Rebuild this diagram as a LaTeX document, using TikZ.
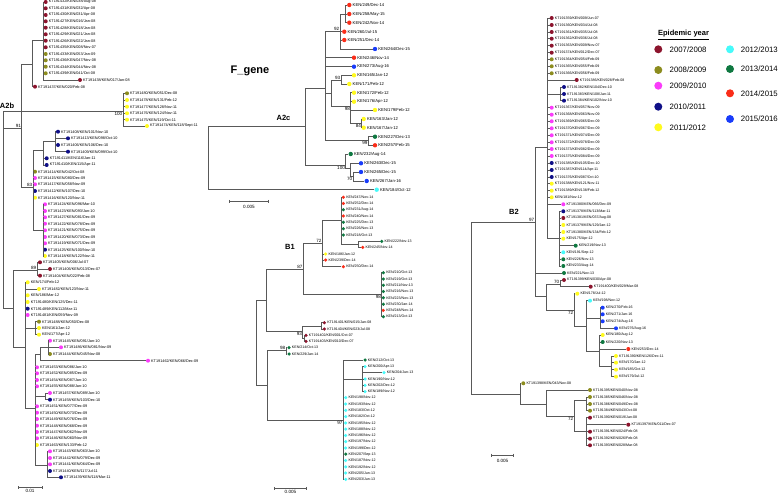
\documentclass[tikz,border=0pt]{standalone}
\usepackage{fontspec}
\setmainfont{Liberation Sans}
\usetikzlibrary{positioning}

\definecolor{y0708}{RGB}{140,20,45}
\definecolor{y0809}{RGB}{140,140,30}
\definecolor{y0910}{RGB}{250,60,250}
\definecolor{y1011}{RGB}{15,15,135}
\definecolor{y1112}{RGB}{255,250,30}
\definecolor{y1213}{RGB}{70,250,250}
\definecolor{y1314}{RGB}{15,120,65}
\definecolor{y1415}{RGB}{250,45,25}
\definecolor{y1516}{RGB}{25,60,250}

\tikzset{
  br/.style={draw=black!65, line width=0.5pt},
  dot/.style={circle, draw=none, inner sep=0pt, minimum size=4pt},
  lbl/.style={anchor=west, inner sep=0.8pt, font=\fontsize{3.8}{4}\selectfont},
  bs/.style={inner sep=0.6pt, font=\fontsize{4.6}{5}\selectfont},
  clade/.style={font=\bfseries\fontsize{7.5}{8}\selectfont},
  key/.style={circle, draw=none, inner sep=0pt, minimum size=8pt},
  keytxt/.style={inner sep=0pt, font=\fontsize{7.8}{9}\selectfont},
}

% parent, name, x, y, colour, text
\newcommand{\seqtip}[6]{%
  \node[dot, fill=#5] (#2) at (#3,#4) {};
  \node[lbl] (#2l) at (#2.east) {#6};
  \draw[br] (#1) |- (#2);}
% parent, name, x, y
\newcommand{\innode}[4]{%
  \coordinate (#2) at (#3,#4);
  \draw[br] (#1) |- (#2);}

\begin{document}
\begin{tikzpicture}[x=1pt, y=-1pt]
  \useasboundingbox (0,0) rectangle (778,494);

  % ---------- A2b ----------
  \coordinate (r2b) at (3,128);
  \innode{r2b}{g2}{123}{111}
  \innode{r2b}{n91}{21.7}{128}
  \innode{r2b}{nL}{13}{308}
  \innode{n91}{g1p}{32}{64}
  \innode{g1p}{g1}{43.3}{40}
  \seqtip{g1}{a1}{45.7}{2}{y0708}{KT191432/KEN/038/Aug-08}
  \seqtip{g1}{a2}{45.7}{8.3}{y0708}{KT191431/KEN/032/Apr-08}
  \seqtip{g1}{a3}{45.7}{15}{y0708}{KT191430/KEN/031/Apr-08}
  \seqtip{g1}{a4}{45.7}{21.3}{y0708}{KT191427/KEN/016/Jan-08}
  \seqtip{g1}{a5}{45.7}{27.7}{y0708}{KT191428/KEN/018/Jan-08}
  \seqtip{g1}{a6}{45.7}{34.3}{y0708}{KT191429/KEN/021/Jan-08}
  \seqtip{g1}{a7}{45.7}{40.7}{y0708}{KT191426/KEN/022/Jan-08}
  \seqtip{g1}{a8}{45.7}{47.3}{y0708}{KT191435/KEN/008/Nov-07}
  \seqtip{g1}{a9}{45.7}{54}{y0809}{KT191433/KEN/053/Jan-09}
  \seqtip{g1}{a10}{45.7}{60.3}{y0809}{KT191436/KEN/047/Nov-08}
  \seqtip{g1}{a11}{45.7}{66.7}{y0809}{KT191434/KEN/044/Nov-08}
  \seqtip{g1}{a12}{45.7}{73.3}{y0809}{KT191439/KEN/041/Oct-08}
  \seqtip{g1}{a13}{80}{80}{y0708}{KT191438/KEN/017/Jan-08}
  \seqtip{g1p}{a14}{35}{86.7}{y0708}{KT191437/KEN/020/Feb-08}

  \seqtip{g2}{a15}{127}{93.3}{y0809}{KT191480/KEN/051/Dec-08}
  \seqtip{g2}{a16}{127}{100}{y1112}{KT191478/KEN/131/Feb-12}
  \seqtip{g2}{a17}{127}{106.7}{y1112}{KT191477/KEN/128/Nov-11}
  \seqtip{g2}{a18}{127}{113.3}{y1112}{KT191476/KEN/124/Nov-11}
  \seqtip{g2}{a19}{127}{119.7}{y1112}{KT191475/KEN/119/Oct-11}
  \seqtip{g2}{a20}{147}{126}{y1112}{KT191474/KEN/118/Sept-11}

  \innode{n91}{n83}{33}{187}
  \innode{n83}{nS}{43}{150}
  \innode{nS}{nA}{55}{141}
  \seqtip{nA}{a21}{58}{131.7}{y1011}{KT191408/KEN/101/Nov-10}
  \seqtip{nA}{a22}{68}{138.3}{y1011}{KT191413/KEN/098/Oct-10}
  \seqtip{nA}{a23}{58}{145}{y1011}{KT191406/KEN/106/Dec-10}
  \seqtip{nA}{a24}{68}{151.7}{y1011}{KT191409/KEN/099/Oct-10}
  \seqtip{nS}{a25}{46.7}{158.3}{y1011}{KT191411/KEN/116/Jan-11}
  \seqtip{nS}{a26}{46.7}{165}{y1011}{KT191410/KEN/115/Apr-11}
  \seqtip{n83}{a27}{35}{171.7}{y0809}{KT191414/KEN/042/Oct-08}
  \seqtip{n83}{a28}{35}{178}{y0910}{KT191415/KEN/080/Dec-09}
  \seqtip{n83}{a29}{35}{184.3}{y0910}{KT191417/KEN/058/Nov-09}
  \seqtip{n83}{a30}{35}{191}{y1011}{KT191412/KEN/107/Dec-10}
  \seqtip{n83}{a31}{35}{197.7}{y1112}{KT191416/KEN/120/Nov-11}
  \innode{n83}{nT}{43}{230}
  \seqtip{nT}{a32}{45}{204.3}{y0910}{KT191424/KEN/096/Mar-10}
  \seqtip{nT}{a33}{45}{211}{y0910}{KT191423/KEN/093/Jan-10}
  \seqtip{nT}{a34}{45}{217.3}{y0910}{KT191427/KEN/081/Dec-09}
  \seqtip{nT}{a35}{45}{223.7}{y0910}{KT191422/KEN/078/Dec-09}
  \seqtip{nT}{a36}{45}{230.3}{y0910}{KT191421/KEN/075/Dec-09}
  \seqtip{nT}{a37}{45}{237}{y0910}{KT191420/KEN/073/Dec-09}
  \seqtip{nT}{a38}{45}{243.3}{y0910}{KT191419/KEN/071/Dec-09}
  \seqtip{nT}{a39}{45}{249.7}{y1011}{KT191425/KEN/100/Nov-10}
  \seqtip{nT}{a40}{45}{256}{y1112}{KT191418/KEN/122/Nov-11}

  \innode{nL}{n89}{37}{270}
  \seqtip{n89}{a41}{40}{262.3}{y0708}{KT191405/KEN/006/Jul-07}
  \seqtip{n89}{a42}{50}{269}{y0708}{KT191406/KEN/013/Dec-07}
  \seqtip{n89}{a43}{40}{275.7}{y0708}{KT191404/KEN/022/Feb-08}
  \innode{nL}{nM}{25}{347}
  \seqtip{nM}{a44}{27.7}{282.3}{y1112}{KEN/174/Feb-12}
  \seqtip{nM}{a45}{39}{289}{y1112}{KT191482/KEN/123/Nov-11}
  \seqtip{nM}{a46}{27.7}{295.3}{y1112}{KEN/186/Mar-12}
  \seqtip{nM}{a47}{27.7}{302}{y1112}{KT191480/KEN/125/Dec-11}
  \seqtip{nM}{a48}{27.7}{308.7}{y1011}{KT191489/KEN/112/Mar-11}
  \seqtip{nM}{a49}{27.7}{315}{y0910}{KT191481/KEN/059/Nov-09}
  \innode{nM}{nY2}{35}{328}
  \seqtip{nY2}{a50}{39}{321.7}{y0809}{KT191488/KEN/050/Dec-08}
  \seqtip{nY2}{a51}{39}{328}{y1112}{KEN/161/Jan-12}
  \seqtip{nY2}{a52}{39}{334.7}{y1112}{KEN/177/Apr-12}
  \innode{nM}{nN}{35}{408}
  \innode{nN}{nP}{40.7}{354}
  \innode{nP}{nQ}{48}{347}
  \seqtip{nQ}{a53}{50}{340.7}{y0910}{KT191445/KEN/091/Jan-10}
  \seqtip{nQ}{a54}{61}{347.3}{y0910}{KT191486/KEN/081/Nov-09}
  \seqtip{nQ}{a55}{50}{354}{y0809}{KT191444/KEN/045/Nov-08}
  \seqtip{nP}{a56}{148}{360.7}{y0910}{KT191462/KEN/066/Dec-09}
  \seqtip{nN}{a57}{37}{367.3}{y0910}{KT191453/KEN/086/Jan-10}
  \seqtip{nN}{a58}{37}{373.3}{y0910}{KT191452/KEN/085/Dec-09}
  \seqtip{nN}{a59}{37}{380}{y0910}{KT191454/KEN/087/Jan-10}
  \seqtip{nN}{a60}{37}{386.3}{y0910}{KT191455/KEN/088/Jan-10}
  \innode{nN}{nU}{45}{396}
  \seqtip{nU}{a61}{50}{393}{y0910}{KT191457/KEN/089/Jan-10}
  \seqtip{nU}{a62}{50}{399.7}{y1011}{KT191458/KEN/103/Dec-10}
  \seqtip{nN}{a63}{37}{406.3}{y0910}{KT191451/KEN/077/Dec-09}
  \seqtip{nN}{a64}{37}{412.7}{y0910}{KT191450/KEN/073/Dec-09}
  \seqtip{nN}{a65}{37}{419}{y0910}{KT191449/KEN/076/Dec-09}
  \seqtip{nN}{a66}{37}{425.7}{y0910}{KT191448/KEN/068/Dec-09}
  \seqtip{nN}{a67}{37}{432}{y0910}{KT191447/KEN/062/Nov-09}
  \seqtip{nN}{a68}{37}{438.3}{y0910}{KT191446/KEN/060/Nov-09}
  \seqtip{nN}{a69}{37}{445}{y1112}{KT191463/KEN/133/Feb-12}
  \innode{nN}{nR}{47}{465}
  \seqtip{nR}{a70}{50}{451.3}{y0910}{KT191443/KEN/063/Jan-10}
  \seqtip{nR}{a71}{50}{458}{y0910}{KT191442/KEN/079/Dec-09}
  \seqtip{nR}{a72}{50}{464.3}{y0910}{KT191441/KEN/064/Dec-09}
  \seqtip{nR}{a73}{50}{471}{y1011}{KT191440/KEN/117/Jul-11}
  \seqtip{nR}{a74}{61}{477.3}{y1011}{KT191439/KEN/118/Mar-11}

  \node[bs, anchor=north east] (bs100a) at (g2) {100};
  \node[bs, anchor=south east] (bs91) at (n91) {91};
  \node[bs, anchor=south east] (bs83) at (n83) {83};
  \node[bs, anchor=south east] (bs89) at (n89) {89};
  \node[clade] (labA2b) at (7,106) {A2b};

  \coordinate (sbA0) at (18,487.7);
  \coordinate (sbA1) at (42,487.7);
  \draw[br] (sbA0) -- (sbA1);
  \draw[br] ([yshift=1.5pt]sbA0) -- ([yshift=-1.5pt]sbA0);
  \draw[br] ([yshift=1.5pt]sbA1) -- ([yshift=-1.5pt]sbA1);
  \node[bs] (sbAl) at (30,491.3) {0.01};

  % ---------- A2c ----------
  \begin{scope}[lbl/.append style={font=\fontsize{4.2}{5}\selectfont},
                dot/.append style={minimum size=4.4pt}]
  \coordinate (rC) at (208,150);
  \innode{rC}{nC0}{305}{126}
  \innode{nC0}{nB}{325.7}{88.3}
  \innode{nB}{n92}{340}{31.7}
  \innode{n92}{n92a}{345.7}{14}
  \seqtip{n92a}{c1}{349.3}{5}{y1415}{KEN/249/Dec-14}
  \seqtip{n92a}{c2}{349.3}{14}{y1415}{KEN/258/May-15}
  \seqtip{n92a}{c3}{349.3}{22.7}{y1415}{KEN/242/Nov-14}
  \seqtip{n92}{c4}{344.3}{31.7}{y1415}{KEN/260/Jul-15}
  \seqtip{n92}{c5}{344.3}{40}{y1415}{KEN/251/Dec-14}
  \seqtip{n92}{c6}{375}{49}{y1516}{KEN/264/Dec-15}
  \seqtip{nB}{c7}{354}{57.7}{y1415}{KEN/246/Nov-14}
  \seqtip{nB}{c8}{354}{66.7}{y1516}{KEN/273/Aug-16}
  \innode{nB}{nYc}{331.7}{93}
  \innode{nYc}{n93}{341}{80}
  \seqtip{n93}{c9}{354}{75.3}{y1112}{KEN/165/Jan-12}
  \seqtip{n93}{c10}{349.3}{84}{y1112}{KEN/171/Feb-12}
  \innode{nYc}{n98}{350.7}{106.7}
  \seqtip{n98}{c11}{354}{92.7}{y1112}{KEN/172/Feb-12}
  \seqtip{n98}{c12}{354}{101.7}{y1112}{KEN/176/Apr-12}
  \seqtip{n98}{c13}{375}{110}{y1112}{KEN/179/Feb-12}
  \innode{n98}{n84}{361.7}{123.4}
  \seqtip{n84}{c14}{363.7}{119}{y1112}{KEN/163/Jan-12}
  \seqtip{n84}{c15}{363.7}{127.7}{y1112}{KEN/167/Jan-12}
  \innode{nB}{nG}{368.3}{140}
  \seqtip{nG}{c16}{375}{136.7}{y1314}{KEN/227/Dec-13}
  \seqtip{nG}{c17}{375}{145.3}{y1415}{KEN/257/Feb-15}
  \innode{nC0}{n100}{345.7}{165}
  \seqtip{n100}{c18}{350.7}{154}{y1314}{KEN/232/Aug-14}
  \innode{n100}{nH}{350}{168}
  \seqtip{nH}{c19}{361}{163.3}{y1516}{KEN/263/Dec-15}
  \innode{nH}{n70}{353}{176.5}
  \seqtip{n70}{c20}{361}{172}{y1516}{KEN/265/Dec-15}
  \seqtip{n70}{c21}{366.7}{181}{y1516}{KEN/267/Jan-16}
  \seqtip{rC}{c22}{376.7}{189.7}{y1213}{KEN/184/Oct-12}
  \end{scope}

  \node[bs, anchor=south east] (bs92) at (n92) {92};
  \node[bs, anchor=south east] (bs93) at (n93) {93};
  \node[bs, anchor=north east] (bs98a) at (n98) {98};
  \node[bs, anchor=north east] (bs84) at (n84) {84};
  \node[bs, anchor=north east] (bs99) at (nG) {99};
  \node[bs, anchor=north east] (bs100b) at (n100) {100};
  \node[bs, anchor=north east] (bs70a) at (n70) {70};
  \node[font=\bfseries\fontsize{11}{12}\selectfont] (title) at (250,71) {F\_gene};
  \node[clade] (labA2c) at (283.5,118) {A2c};

  \coordinate (sbC0) at (229.3,201.3);
  \coordinate (sbC1) at (268.3,201.3);
  \draw[br] (sbC0) -- (sbC1);
  \draw[br] ([yshift=1.5pt]sbC0) -- ([yshift=-1.5pt]sbC0);
  \draw[br] ([yshift=1.5pt]sbC1) -- ([yshift=-1.5pt]sbC1);
  \node[bs] (sbCl) at (249,206.7) {0.005};

  % ---------- B1 ----------
  \begin{scope}[lbl/.append style={font=\fontsize{3.6}{4}\selectfont},
                dot/.append style={minimum size=3.5pt}]
  \coordinate (rB1) at (256.7,342);
  \innode{rB1}{nK}{266}{300}
  \innode{nK}{n87}{303.3}{269.3}
  \innode{n87}{n72}{322.3}{243}
  \innode{n72}{nI}{341.7}{220}
  \seqtip{nI}{b1}{343.3}{197.3}{y1415}{KEN/247/Nov-14}
  \seqtip{nI}{b2}{343.3}{203.5}{y1415}{KEN/252/Dec-14}
  \seqtip{nI}{b3}{343.3}{209.7}{y1314}{KEN/231/Aug-14}
  \seqtip{nI}{b4}{343.3}{216}{y1415}{KEN/240/Nov-14}
  \seqtip{nI}{b5}{343.3}{222.3}{y1314}{KEN/225/Dec-13}
  \seqtip{nI}{b6}{343.3}{228.7}{y1314}{KEN/226/Nov-13}
  \seqtip{nI}{b7}{343.3}{235}{y1314}{KEN/218/Oct-13}
  \innode{nI}{nJ}{358}{244}
  \seqtip{nJ}{b8}{381.7}{241.3}{y1314}{KEN/222/Nov-13}
  \seqtip{nJ}{b9}{362.7}{247.3}{y1415}{KEN/245/Nov-14}
  \seqtip{n72}{b10}{325.7}{254}{y1112}{KEN/186/Jan-12}
  \seqtip{n72}{b11}{325.7}{260}{y1415}{KEN/239/Dec-14}
  \seqtip{n72}{b12}{343.3}{266.7}{y1415}{KEN/250/Dec-14}
  \innode{n87}{n98b}{381.7}{294.3}
  \seqtip{n98b}{b13}{383.3}{272.7}{y1314}{KEN/210/Oct-13}
  \seqtip{n98b}{b14}{383.3}{279}{y1314}{KEN/219/Oct-13}
  \seqtip{n98b}{b15}{383.3}{285.3}{y1314}{KEN/211/Nov-13}
  \seqtip{n98b}{b16}{383.3}{291.5}{y1314}{KEN/216/Nov-13}
  \seqtip{n98b}{b17}{383.3}{297.8}{y1314}{KEN/223/Nov-13}
  \seqtip{n98b}{b18}{383.3}{304.2}{y1314}{KEN/230/Jan-14}
  \seqtip{n98b}{b19}{383.3}{310.4}{y1415}{KEN/248/Nov-14}
  \seqtip{n98b}{b20}{383.3}{316.7}{y1314}{KEN/213/Oct-13}
  \innode{nK}{n93b}{302.7}{331.7}
  \innode{n93b}{nM1}{321.7}{326}
  \seqtip{nM1}{b21}{324.3}{322.7}{y0708}{KT191401/KEN/015/Jan-08}
  \seqtip{nM1}{b22}{324.3}{329}{y0708}{KT191404/KEN/023/Jul-08}
  \innode{n93b}{nM2}{304.7}{338.3}
  \seqtip{nM2}{b23}{306}{335.3}{y0708}{KT191402/KEN/001/Oct-07}
  \seqtip{nM2}{b24}{306}{341.3}{y0708}{KT191403/KEN/010/Dec-07}
  \innode{rB1}{nL2}{267.3}{385}
  \innode{nL2}{n98c}{286}{350.7}
  \seqtip{n98c}{b25}{289}{347.7}{y1314}{KEN/214/Oct-13}
  \seqtip{n98c}{b26}{289}{354}{y1314}{KEN/229/Jan-14}
  \innode{nL2}{n97}{343.3}{420}
  \seqtip{n97}{b27}{365}{360}{y1314}{KEN/212/Oct-13}
  \innode{n97}{nCc}{362.7}{379}
  \seqtip{nCc}{b28}{365}{366.7}{y1213}{KEN/200/Apr-13}
  \seqtip{nCc}{b29}{384}{372.7}{y1213}{KEN/204/Jun-13}
  \seqtip{nCc}{b30}{365}{379}{y1213}{KEN/190/Nov-12}
  \seqtip{nCc}{b31}{365}{385.3}{y1213}{KEN/202/Dec-12}
  \seqtip{nCc}{b32}{365}{391.7}{y1213}{KEN/189/Nov-12}
  \seqtip{n97}{b33}{345.7}{397.7}{y1213}{KEN/198/Nov-12}
  \seqtip{n97}{b34}{345.7}{404}{y1213}{KEN/193/Nov-12}
  \seqtip{n97}{b35}{345.7}{410.3}{y1213}{KEN/183/Oct-12}
  \seqtip{n97}{b36}{345.7}{416.7}{y1213}{KEN/182/Oct-12}
  \seqtip{n97}{b37}{345.7}{423}{y1213}{KEN/195/Nov-12}
  \seqtip{n97}{b38}{345.7}{429.2}{y1213}{KEN/188/Nov-12}
  \seqtip{n97}{b39}{345.7}{435.5}{y1213}{KEN/196/Nov-12}
  \seqtip{n97}{b40}{345.7}{441.7}{y1213}{KEN/197/Nov-12}
  \seqtip{n97}{b41}{345.7}{448}{y1213}{KEN/199/Dec-12}
  \seqtip{n97}{b42}{345.7}{454.2}{y1314}{KEN/207/Sep-13}
  \seqtip{n97}{b43}{345.7}{460.5}{y1213}{KEN/187/Nov-12}
  \seqtip{n97}{b44}{345.7}{466.8}{y1213}{KEN/192/Nov-12}
  \seqtip{n97}{b45}{345.7}{473}{y1213}{KEN/205/Jun-13}
  \seqtip{n97}{b46}{345.7}{479.3}{y1213}{KEN/203/Jun-13}
  \end{scope}

  \node[bs, anchor=south east] (bs87) at (n87) {87};
  \node[bs, anchor=south east] (bs72a) at (n72) {72};
  \node[bs, anchor=north east] (bs98b) at (n98b) {98};
  \node[bs, anchor=north east] (bs93b) at (n93b) {93};
  \node[bs, anchor=south east] (bs98c) at (n98c) {98};
  \node[bs, anchor=north east] (bs97a) at (n97) {97};
  \node[clade] (labB1) at (290,247) {B1};

  \coordinate (sbB0) at (274.3,488.3);
  \coordinate (sbB1) at (306.7,488.3);
  \draw[br] (sbB0) -- (sbB1);
  \draw[br] ([yshift=1.5pt]sbB0) -- ([yshift=-1.5pt]sbB0);
  \draw[br] ([yshift=1.5pt]sbB1) -- ([yshift=-1.5pt]sbB1);
  \node[bs] (sbBl) at (290.5,492.2) {0.005};

  % ---------- B2 ----------
  \begin{scope}[lbl/.append style={font=\fontsize{3.6}{4}\selectfont}]
  \coordinate (rB2) at (471,300);
  \innode{rB2}{n97B}{535}{222.3}
  \innode{n97B}{nTop}{547.7}{147.7}
  \seqtip{nTop}{d1}{551.7}{18}{y0708}{KT191359/KEN/009/Jun-07}
  \seqtip{nTop}{d2}{551.7}{25}{y0708}{KT191360/KEN/034/Jul-08}
  \seqtip{nTop}{d3}{551.7}{32}{y0708}{KT191361/KEN/035/Jul-08}
  \seqtip{nTop}{d4}{551.7}{38.7}{y0708}{KT191362/KEN/036/Jul-08}
  \seqtip{nTop}{d5}{551.7}{45.7}{y0708}{KT191363/KEN/009/Nov-07}
  \seqtip{nTop}{d6}{551.7}{52.7}{y0708}{KT191374/KEN/012/Dec-07}
  \seqtip{nTop}{d7}{551.7}{59.3}{y0809}{KT191364/KEN/054/Feb-09}
  \seqtip{nTop}{d8}{551.7}{66.3}{y0809}{KT191365/KEN/055/Feb-09}
  \seqtip{nTop}{d9}{551.7}{73.3}{y0809}{KT191366/KEN/056/Feb-09}
  \seqtip{nTop}{d10}{576.7}{80}{y0708}{KT191386/KEN/028/Feb-08}
  \innode{nTop}{nNv}{560}{94}
  \seqtip{nNv}{d11}{564}{87}{y1011}{KT191382/KEN/104/Dec-10}
  \seqtip{nNv}{d12}{564}{94}{y1011}{KT191383/KEN/108/Jan-11}
  \seqtip{nNv}{d13}{564}{100.7}{y1011}{KT191384/KEN/102/Nov-10}
  \seqtip{nTop}{d14}{551.7}{107.7}{y0910}{KT191367/KEN/057/Nov-09}
  \seqtip{nTop}{d15}{551.7}{114.7}{y0910}{KT191368/KEN/063/Nov-09}
  \seqtip{nTop}{d16}{551.7}{121.3}{y0910}{KT191369/KEN/065/Dec-09}
  \seqtip{nTop}{d17}{551.7}{128.3}{y0910}{KT191370/KEN/067/Dec-09}
  \seqtip{nTop}{d18}{551.7}{135.3}{y0910}{KT191371/KEN/074/Dec-09}
  \seqtip{nTop}{d19}{551.7}{142.3}{y0910}{KT191372/KEN/078/Dec-09}
  \seqtip{nTop}{d20}{551.7}{149}{y0910}{KT191373/KEN/082/Dec-09}
  \seqtip{nTop}{d21}{551.7}{156}{y0910}{KT191375/KEN/084/Dec-09}
  \seqtip{nTop}{d22}{551.7}{163}{y1011}{KT191385/KEN/105/Dec-10}
  \seqtip{nTop}{d23}{551.7}{170}{y1011}{KT191387/KEN/114/Apr-11}
  \seqtip{nTop}{d24}{551.7}{177}{y1011}{KT191376/KEN/087/Oct-10}
  \seqtip{nTop}{d25}{551.7}{183.7}{y1112}{KT191388/KEN/121/Nov-11}
  \seqtip{nTop}{d26}{551.7}{190.7}{y1112}{KT191389/KEN/138/Feb-12}
  \seqtip{nTop}{d27}{551.7}{197.3}{y1112}{KEN/181/Nov-12}
  \seqtip{nTop}{d28}{563.3}{204.3}{y0910}{KT191380/KEN/066/Dec-09}
  \innode{nTop}{nV}{559.3}{238.3}
  \seqtip{nV}{d29}{563.3}{211.3}{y1011}{KT191378/KEN/113/Mar-11}
  \seqtip{nV}{d30}{563.3}{218}{y0708}{KT191381/KEN/037/Aug-08}
  \seqtip{nV}{d31}{563.3}{225}{y1112}{KT191379/KEN/129/Jan-12}
  \seqtip{nV}{d32}{563.3}{232}{y1112}{KT191380/KEN/134/Feb-12}
  \seqtip{nV}{d33}{563.3}{238.7}{y1112}{KEN/175/Apr-12}
  \seqtip{nV}{d34}{575.7}{245.7}{y1314}{KEN/219/Nov-13}
  \seqtip{nV}{d35}{563.3}{252.3}{y1213}{KEN/191/Sep-12}
  \seqtip{nV}{d36}{563.3}{259.3}{y1314}{KEN/226/Nov-13}
  \seqtip{nV}{d37}{563.3}{266}{y1314}{KEN/233/Aug-14}
  \seqtip{n97B}{d38}{564}{273}{y1314}{KEN/221/Nov-13}
  \innode{n97B}{nLow}{546.7}{296}
  \innode{nLow}{n70B}{560}{284}
  \seqtip{n70B}{d39}{564}{280}{y0708}{KT191399/KEN/030/Apr-08}
  \seqtip{n70B}{d40}{590.7}{286.7}{y0708}{KT191400/KEN/029/Mar-08}
  \innode{nLow}{n72B}{574}{310}
  \seqtip{n72B}{d41}{577.3}{293.7}{y1112}{KEN/178/Jul-12}
  \innode{n72B}{nW}{586.7}{326}
  \seqtip{nW}{d42}{590}{300.7}{y1213}{KEN/198/Nov-12}
  \innode{nW}{nX}{600}{318.3}
  \seqtip{nX}{d43}{602.7}{307.7}{y1516}{KEN/270/Feb-16}
  \seqtip{nX}{d44}{602.7}{314.3}{y1516}{KEN/271/Jan-16}
  \seqtip{nX}{d45}{602.7}{321.3}{y1516}{KEN/274/Aug-16}
  \seqtip{nX}{d46}{616}{328.3}{y1516}{KEN/276/Aug-16}
  \innode{nW}{nZ}{599.3}{351}
  \seqtip{nZ}{d47}{602.7}{335}{y1112}{KEN/180/Aug-12}
  \seqtip{nZ}{d48}{602.7}{342}{y1314}{KEN/220/Nov-13}
  \seqtip{nZ}{d49}{628.3}{349}{y1415}{KEN/253/Dec-14}
  \innode{nZ}{nZ2}{611.7}{366.7}
  \seqtip{nZ2}{d50}{616}{356}{y1112}{KT191390/KEN/126/Dec-11}
  \seqtip{nZ2}{d51}{616}{362.7}{y1112}{KEN/170/Jan-12}
  \seqtip{nZ2}{d52}{616}{369.7}{y1112}{KEN/185/Oct-12}
  \seqtip{nZ2}{d53}{616}{376.7}{y1112}{KEN/179/Jul-12}
  \innode{rB2}{nO}{520}{394.3}
  \seqtip{nO}{d54}{523.3}{383.3}{y0809}{KT191398/KEN/043/Nov-08}
  \innode{nO}{nP2}{546.7}{404.3}
  \seqtip{nP2}{d55}{590}{390}{y0809}{KT191395/KEN/040/Nov-08}
  \innode{nP2}{n72C}{574}{416}
  \innode{n72C}{nQ1}{586.7}{400.3}
  \seqtip{nQ1}{d56}{590}{397}{y0809}{KT191385/KEN/046/Nov-08}
  \seqtip{nQ1}{d57}{590}{404}{y0809}{KT191386/KEN/049/Dec-08}
  \seqtip{nQ1}{d58}{590}{410.7}{y0809}{KT191384/KEN/043/Oct-08}
  \innode{n72C}{nQ2}{586.7}{431.7}
  \seqtip{nQ2}{d59}{590}{417.7}{y0708}{KT191390/KEN/019/Jan-08}
  \seqtip{nQ2}{d60}{628.3}{424.7}{y0708}{KT191397/KEN/011/Dec-07}
  \seqtip{nQ2}{d61}{590}{431.7}{y0708}{KT191391/KEN/024/Feb-08}
  \seqtip{nQ2}{d62}{590}{438.7}{y0708}{KT191392/KEN/026/Feb-08}
  \seqtip{nQ2}{d63}{590}{445.3}{y0708}{KT191393/KEN/028/Mar-08}
  \end{scope}

  \node[bs, anchor=south east] (bs97b) at (n97B) {97};
  \node[bs, anchor=south east] (bs70b) at (n70B) {70};
  \node[bs, anchor=north east] (bs72b) at (n72B) {72};
  \node[bs, anchor=north east] (bs72c) at (n72C) {72};
  \node[clade] (labB2) at (514,211.7) {B2};

  \coordinate (sbD0) at (491.7,455);
  \coordinate (sbD1) at (513.3,455);
  \draw[br] (sbD0) -- (sbD1);
  \draw[br] ([yshift=1.5pt]sbD0) -- ([yshift=-1.5pt]sbD0);
  \draw[br] ([yshift=1.5pt]sbD1) -- ([yshift=-1.5pt]sbD1);
  \node[bs] (sbDl) at (502.5,460.7) {0.005};

  % ---------- legend ----------
  \node[font=\bfseries\fontsize{7.5}{9}\selectfont] (keyhd) at (683.5,35) {\underline{Epidemic year}};
  \node[key, fill=y0708] (k1) at (658.3,49.3) {};
  \node[keytxt, right=7pt of k1] (k1t) {2007/2008};
  \node[key, fill=y0809] (k2) at (658.3,70) {};
  \node[keytxt, right=7pt of k2] (k2t) {2008/2009};
  \node[key, fill=y0910] (k3) at (658.3,85.7) {};
  \node[keytxt, right=7pt of k3] (k3t) {2009/2010};
  \node[key, fill=y1011] (k4) at (658.3,106.7) {};
  \node[keytxt, right=7pt of k4] (k4t) {2010/2011};
  \node[key, fill=y1112] (k5) at (658.3,127.3) {};
  \node[keytxt, right=7pt of k5] (k5t) {2011/2012};
  \node[key, fill=y1213] (k6) at (730,49.3) {};
  \node[keytxt, right=6.5pt of k6] (k6t) {2012/2013};
  \node[key, fill=y1314] (k7) at (730,69) {};
  \node[keytxt, right=6.5pt of k7] (k7t) {2013/2014};
  \node[key, fill=y1415] (k8) at (730,93.3) {};
  \node[keytxt, right=6.5pt of k8] (k8t) {2014/2015};
  \node[key, fill=y1516] (k9) at (730,119) {};
  \node[keytxt, right=6.5pt of k9] (k9t) {2015/2016};
\end{tikzpicture}
\end{document}
